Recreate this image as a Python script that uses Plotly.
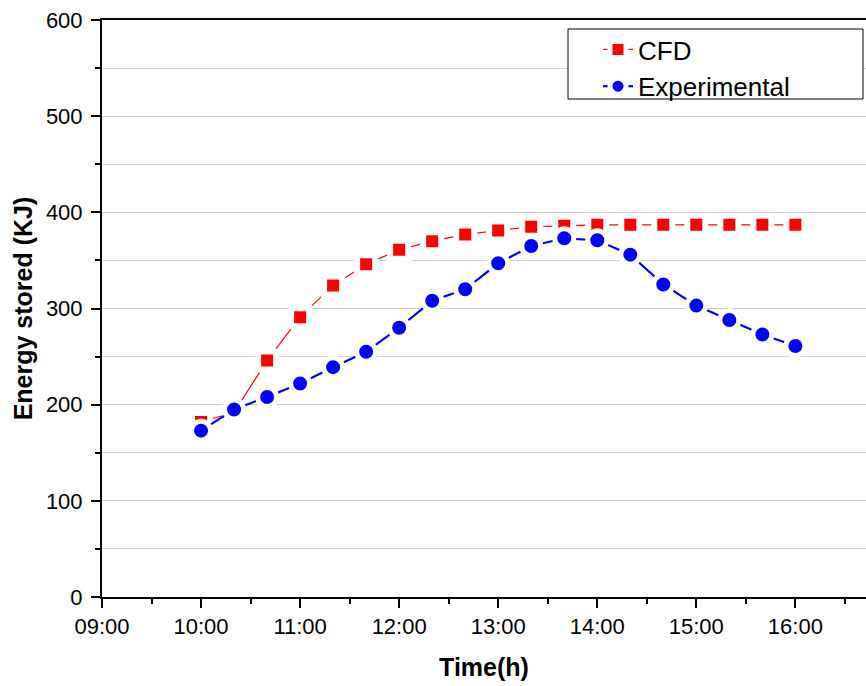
import plotly.graph_objects as go

times = ["10:00", "10:20", "10:40", "11:00", "11:20", "11:40", "12:00", "12:20", "12:40",
         "13:00", "13:20", "13:40", "14:00", "14:20", "14:40", "15:00", "15:20", "15:40", "16:00"]
cfd = [182, 192, 246, 291, 324, 346, 361, 370, 377,
       381, 385, 386, 387, 387, 387, 387, 387, 387, 387]
experimental = [173, 195, 208, 222, 239, 255, 280, 308, 320,
                347, 365, 373, 371, 356, 325, 303, 288, 273, 261]
tick_hours = [9, 10, 11, 12, 13, 14, 15, 16]
tick_labels = ["09:00", "10:00", "11:00", "12:00", "13:00", "14:00", "15:00", "16:00"]

x_hours = [int(t.split(":")[0]) + int(t.split(":")[1]) / 60 for t in times]

FONT = "Arial, 'Liberation Sans', sans-serif"
W, H = 866, 686
L, R, T, B = 102, 0, 20, 89
PW, PH = W - L - R, H - T - B


def px_x(x):
    return (x - L) / PW


def px_y(y):
    return (H - B - y) / PH


fig = go.Figure()
fig.add_trace(go.Scatter(
    x=x_hours, y=cfd, name="CFD", mode="lines+markers",
    line=dict(color="#ff0000", width=1.2),
    marker=dict(symbol="square", size=18, color="#ff0000",
                line=dict(color="white", width=6)),
))
fig.add_trace(go.Scatter(
    x=x_hours, y=experimental, name="Experimental", mode="lines+markers",
    line=dict(color="#0000ff", width=2.2),
    marker=dict(symbol="circle", size=19, color="#0000ff",
                line=dict(color="white", width=5)),
))

# legend frame
fig.add_shape(type="rect", xref="paper", yref="paper",
              x0=px_x(568), x1=px_x(863), y0=px_y(99), y1=px_y(29),
              line=dict(color="black", width=1), fillcolor="white", layer="above")

fig.update_layout(
    width=W, height=H,
    margin=dict(l=L, r=R, t=T, b=B, autoexpand=False),
    paper_bgcolor="white", plot_bgcolor="white",
    font=dict(family=FONT, color="black", size=22),
    showlegend=True,
    legend=dict(
        x=px_x(598), y=px_y(26), xanchor="left", yanchor="top",
        bgcolor="rgba(0,0,0,0)", borderwidth=0,
        font=dict(size=26, family=FONT, color="black"),
        tracegroupgap=0, itemsizing="trace",
    ),
    xaxis=dict(
        range=[9, 16.713], automargin=False,
        tickmode="array", tickvals=tick_hours, ticktext=tick_labels,
        ticks="outside", ticklen=9, tickwidth=2, tickcolor="black",
        showline=True, linecolor="black", linewidth=2, mirror=True,
        showgrid=False, zeroline=False,
        tickfont=dict(size=22, family=FONT),
        minor=dict(ticks="outside", ticklen=5, tickwidth=2, tickcolor="black",
                   dtick=0.5, tick0=9, showgrid=False),
        title=dict(text="<b>Time(h)</b>", font=dict(size=25, family=FONT), standoff=20),
    ),
    yaxis=dict(
        range=[0, 600], automargin=False,
        tickmode="linear", tick0=0, dtick=100,
        ticks="outside", ticklen=9, tickwidth=2, tickcolor="black",
        ticklabelstandoff=4,
        showline=True, linecolor="black", linewidth=2, mirror=False,
        showgrid=True, gridcolor="#c8c8c8", gridwidth=1, zeroline=False,
        tickfont=dict(size=22, family=FONT),
        minor=dict(ticks="outside", ticklen=5, tickwidth=2, tickcolor="black",
                   dtick=50, tick0=0, showgrid=True, gridcolor="#d4d4d4", gridwidth=1),
        title=dict(text="<b>Energy stored (KJ)</b>", font=dict(size=25, family=FONT), standoff=6),
    ),
)

fig.write_html("out.html", config={"displayModeBar": False},
               post_script="document.body.style.margin='0px';document.body.style.overflow='hidden';")
